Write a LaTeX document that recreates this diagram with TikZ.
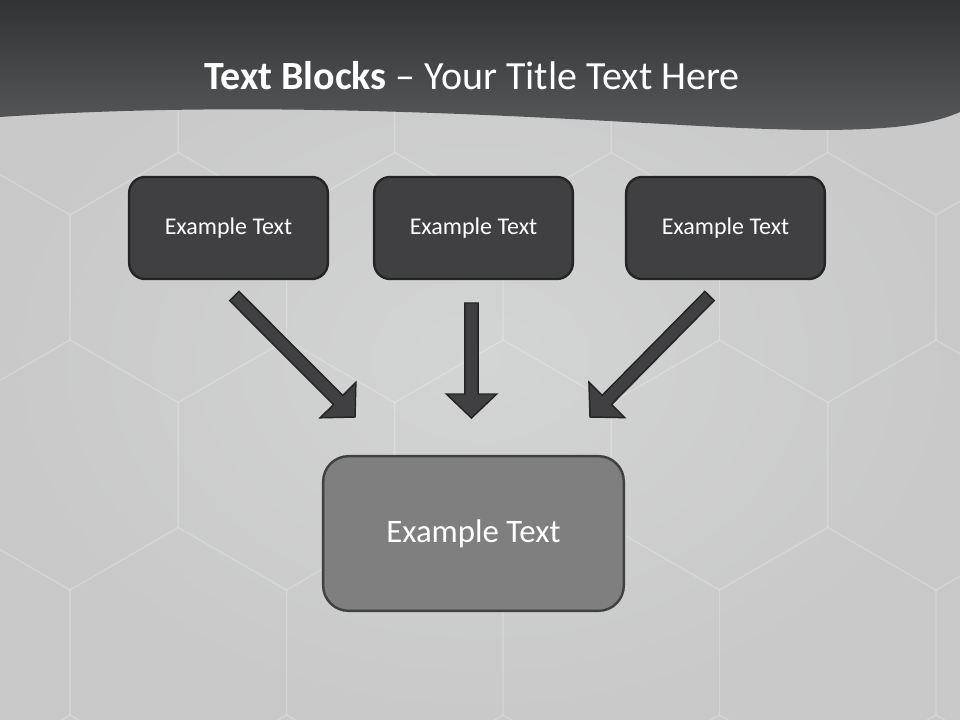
\documentclass[tikz,border=0pt]{standalone}
\usepackage{fontspec}
\setmainfont{Carlito}
\usetikzlibrary{calc}

\definecolor{bandtop}{RGB}{50,51,53}
\definecolor{bandbot}{RGB}{88,89,91}
\definecolor{slate}{RGB}{64,64,66}
\definecolor{slateline}{RGB}{36,36,37}
\definecolor{midgray}{RGB}{127,127,127}
\definecolor{midline}{RGB}{64,64,64}
\definecolor{paper}{RGB}{201,201,201}
\definecolor{paperlight}{RGB}{211,212,212}

% block arrow from #1 to #2 (shaft, then triangular head)
\newcommand{\blockarrow}[2]{%
  \coordinate (hb) at ($(#2)!18pt!(#1)$);
  \draw[arrowbody] ($(#1)!4.9pt!90:(#2)$) -- ($(hb)!4.9pt!90:(#2)$)
    -- ($(hb)!18.9pt!90:(#2)$) -- (#2) -- ($(hb)!18.9pt!-90:(#2)$)
    -- ($(hb)!4.9pt!-90:(#2)$) -- ($(#1)!4.9pt!-90:(#2)$) -- cycle;}

\begin{document}
\begin{tikzpicture}[x=0.75pt,y=-0.75pt,
  topbox/.style={draw=slateline,fill=slate,line width=1.8pt,rounded corners=12pt,
    minimum width=149pt,minimum height=76.5pt,text=white,font=\fontsize{18}{21}\selectfont},
  resbox/.style={draw=midline,fill=midgray,line width=1.8pt,rounded corners=19pt,
    minimum width=225.5pt,minimum height=116pt,text=white,font=\fontsize{24.6}{28}\selectfont},
  arrowbody/.style={draw=slateline,fill=slate,line width=1.1pt,line join=miter},
  hexline/.style={white,opacity=0.13,line width=0.9pt}]

		\useasboundingbox (0,0) rectangle (960,720);
		
		% background with faint hexagons
		\shade[inner color=paperlight,outer color=paper] (0,0) rectangle (960,720);
		\foreach \row in {0,...,4}
		\foreach \col in {-1,...,5}{
			\pgfmathsetmacro\cx{\col*216.5+mod(\row,2)*108.25+70}
			\pgfmathsetmacro\cy{\row*187.5+90}
			\draw[hexline] (\cx,\cy) +(90:125) -- +(30:125) -- +(-30:125)
			  -- +(-90:125) -- +(-150:125) -- +(150:125) -- cycle;
		}
		
		% title band
		\shade[top color=bandtop,bottom color=bandbot]
		(0,0) -- (960,0) -- (960,112) .. controls (920,130) and (850,134) .. (700,126)
		.. controls (500,115) and (250,100) .. (0,117) -- cycle;
		
		\node[text=white,font=\fontsize{30}{35}\selectfont] (title) at (472,76)
		  {\textbf{Text Blocks} – Your Title Text Here};
		
		\node[topbox] (b1) at (228.5,228) {Example Text};
		\node[topbox] (b2) at (473.5,228) {Example Text};
		\node[topbox] (b3) at (725.5,228) {Example Text};
		\node[resbox] (res) at (473.5,533.5) {Example Text};
		
		\coordinate (a1) at (234.3,296);   % tails
		\coordinate (a2) at (471.5,303);
		\coordinate (a3) at (709.5,296);
		\coordinate (t1) at (355,417);     % tips
		\coordinate (t2) at (471.5,418);
		\coordinate (t3) at (590,417);
		
		\blockarrow{a1}{t1}
		\blockarrow{a2}{t2}
		\blockarrow{a3}{t3}
	
	\end{tikzpicture}
\end{document}
